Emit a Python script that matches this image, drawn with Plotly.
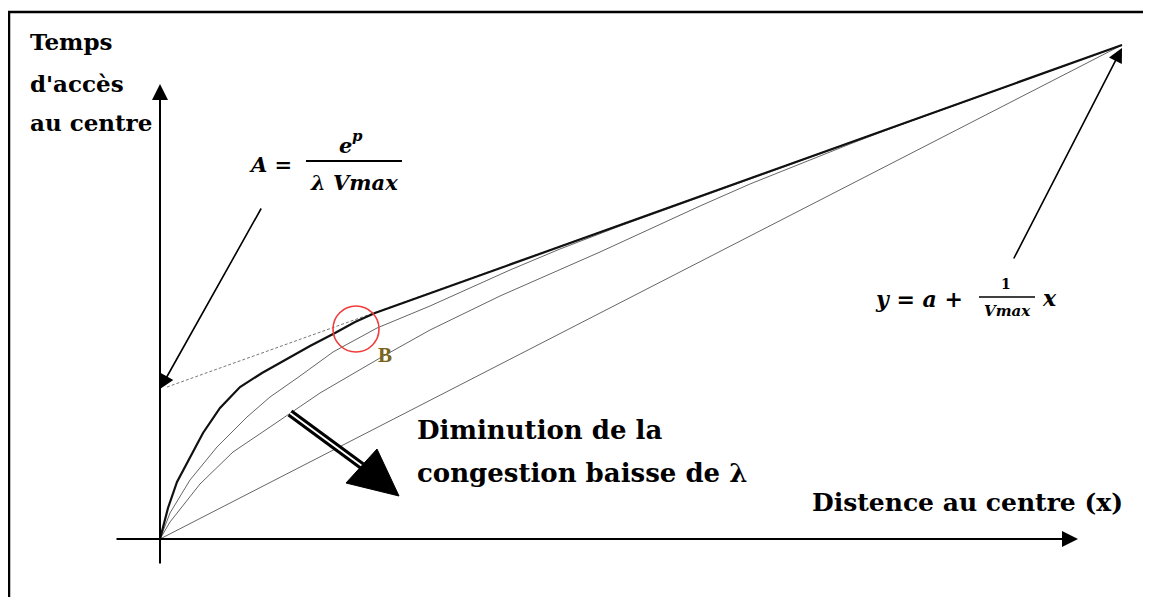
import plotly.graph_objects as go

# ---- data (distance units along x, access-time units along y) ----
thick_x = [0, 8, 17, 30, 43, 60, 80, 102, 125, 150, 175, 195, 215, 962]
thick_y = [0, 31, 57, 81, 106, 131, 152, 166, 179, 193, 206, 217, 226, 494]

curve2_x = [0, 10, 30, 57, 87, 110, 140, 173, 217, 270, 310, 350, 400, 460, 962]
curve2_y = [0, 26, 59, 92, 122, 142, 163, 187, 211, 233, 251, 269, 290, 313, 494]

curve3_x = [0, 10, 40, 73, 110, 160, 220, 270, 340, 440, 540, 590, 640, 690, 740, 962]
curve3_y = [0, 17, 55, 87, 112, 146, 181, 209, 243, 287, 333, 355, 375, 395, 414, 494]

straight_x = [0, 962]
straight_y = [0, 494]

tangent_x = [7, 962]
tangent_y = [152, 494]

arrow_tri_x = [186, 217, 239, 186]
arrow_tri_y = [56, 90, 43, 56]
shaft_x = [130, 202]
shaft_y = [126, 73]

W, H = 1151, 597
M = 8             # page body margin of the html page
X0, Y0 = 160, 539  # origin pixel on the page
FW, FH = W - M, H - M

fig = go.Figure()
thin = dict(color="#666666", width=1)
fig.add_trace(go.Scatter(x=straight_x, y=straight_y, mode="lines", line=thin))
fig.add_trace(go.Scatter(x=curve3_x, y=curve3_y, mode="lines", line=thin))
fig.add_trace(go.Scatter(x=curve2_x, y=curve2_y, mode="lines", line=thin))
fig.add_trace(go.Scatter(x=tangent_x, y=tangent_y, mode="lines",
                         line=dict(color="#777777", width=1, dash="3px,2px")))
fig.add_trace(go.Scatter(x=thick_x, y=thick_y, mode="lines",
                         line=dict(color="#111111", width=2.2)))
# big arrow (double shaft + head)
fig.add_trace(go.Scatter(x=shaft_x, y=shaft_y, mode="lines",
                         line=dict(color="black", width=8)))
fig.add_trace(go.Scatter(x=shaft_x, y=shaft_y, mode="lines",
                         line=dict(color="white", width=2)))
fig.add_trace(go.Scatter(x=arrow_tri_x, y=arrow_tri_y, mode="lines", fill="toself",
                         fillcolor="black", line=dict(color="black", width=1)))

ann = []
def arrow(x, y, ax, ay, w=1.8, size=1.6):
    ann.append(dict(x=x, y=y, ax=ax, ay=ay, xref="x", yref="y", axref="x", ayref="y",
                    text="", showarrow=True, arrowhead=2, arrowsize=size,
                    arrowwidth=w, arrowcolor="black", standoff=0))

arrow(0, 455, 0, -26, w=2, size=1.6)        # y axis
arrow(918, 0, -45, 0, w=2, size=1.6)        # x axis
arrow(0, 150, 102, 332, w=1.6, size=1.8)    # A arrow
arrow(962, 491, 853, 279, w=1.6, size=1.8)  # formula arrow

def text(t, x, y, size, xanchor="left", color="black", family="DejaVu Serif"):
    ann.append(dict(x=x, y=y, xref="x", yref="y", text=t, showarrow=False,
                    xanchor=xanchor, yanchor="middle",
                    font=dict(family=family, size=size, color=color)))

text("<b>Temps</b>", -132, 498, 23)
text("<b>d'accès</b>", -132, 456, 23)
text("<b>au centre</b>", -132, 417, 23)
text("<b>Diminution de la</b>", 255, 109, 26)
text("<b>congestion baisse de λ</b>", 255, 66, 26)
text("<b>Distence au centre (x)</b>", 650, 37, 25)
text("<b>B</b>", 225, 184, 21, xanchor="center", color="#7a6420", family="Liberation Serif")

text("<b><i>A =</i></b>", 87, 375, 21)
text("<b><i>e</i></b>", 194, 394, 21, xanchor="right")
text("<b><i>p</i></b>", 190, 403, 15)
text("<b><i>λ Vmax</i></b>", 194, 357, 21, xanchor="center")
text("<b><i>y = a +</i></b>", 713, 240, 22)
text("<b>1</b>", 846, 255, 14, xanchor="center")
text("<b><i>Vmax</i></b>", 847, 228, 15, xanchor="center")
text("<b><i>x</i></b>", 880, 241, 22)

shapes = [
    dict(type="line", xref="x", yref="y", x0=146, x1=242, y0=378, y1=378,
         line=dict(color="black", width=2)),
    dict(type="line", xref="x", yref="y", x0=819, x1=875, y0=242, y1=242,
         line=dict(color="black", width=1.5)),
    dict(type="circle", xref="x", yref="y", x0=173, x1=219, y0=187, y1=233,
         line=dict(color="#f03c3c", width=1.6)),
    # frame
    dict(type="line", xref="x", yref="y", x0=8 - X0, x1=W - X0, y0=Y0 - 12, y1=Y0 - 12,
         line=dict(color="black", width=2.5)),
    dict(type="line", xref="x", yref="y", x0=9 - X0, x1=9 - X0, y0=Y0 - 12, y1=Y0 - H,
         line=dict(color="black", width=2.5)),
]

fig.update_layout(
    width=FW, height=FH, margin=dict(l=0, r=0, t=0, b=0),
    paper_bgcolor="white", plot_bgcolor="white", showlegend=False,
    xaxis=dict(range=[M - X0, W - X0], visible=False, fixedrange=True),
    yaxis=dict(range=[Y0 - H, Y0 - M], visible=False, fixedrange=True),
    annotations=ann, shapes=shapes,
)
fig.write_html("out.html")
